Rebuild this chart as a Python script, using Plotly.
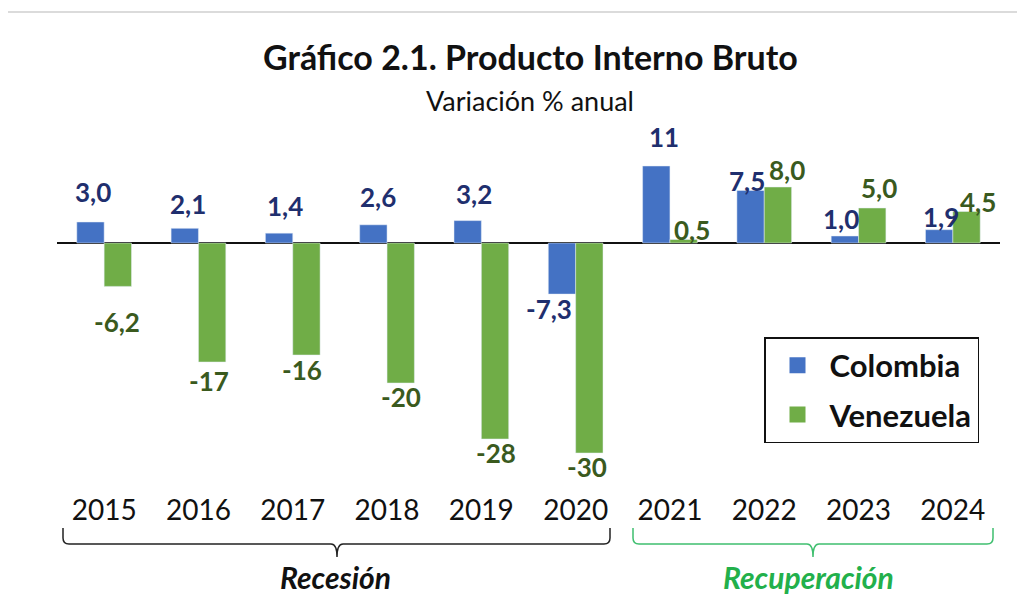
import plotly.graph_objects as go

# ---------------- data ----------------
years = ["2015", "2016", "2017", "2018", "2019", "2020", "2021", "2022", "2023", "2024"]
colombia = [3.0, 2.1, 1.4, 2.6, 3.2, -7.3, 11, 7.5, 1.0, 1.9]
venezuela = [-6.2, -17, -16, -20, -28, -30, 0.5, 8.0, 5.0, 4.5]
colombia_labels = ["3,0", "2,1", "1,4", "2,6", "3,2", "-7,3", "11", "7,5", "1,0", "1,9"]
venezuela_labels = ["-6,2", "-17", "-16", "-20", "-28", "-30", "0,5", "8,0", "5,0", "4,5"]
title = "Gráfico 2.1. Producto Interno Bruto"
subtitle = "Variación % anual"
period_names = ["Recesión", "Recuperación"]

# label nudges (style only): pixel offset (dx, dy) of each label centre from its bar end
col_nudge = [(3, -30), (3, -24), (6, -27), (5, -28), (6, -27), (-13, 15), (8, -29), (-3, -10), (-4, -17), (2, -13)]
ven_nudge = [(-1, 36), (-3, 19), (-5, 15), (0, 14), (1, 14), (-2, 14), (8, -10), (9, -17), (7, -20), (11, -10)]

# ---------------- layout geometry (page pixels) ----------------
OFF = 8                      # page body margin
W, H = 1025 - OFF, 601 - OFF
L, R, T, B = 57, 1000, 145, 474   # plot area in page pixels
FONT = "Lato"

def px_x(px):
    return (px - L) / (R - L)

def px_y(py):
    return (B - py) / (B - T)

BLUE = "#4472C4"
GREEN = "#70AD47"
BLUE_TXT = "#1F2F6E"
GREEN_TXT = "#3A5A1E"

fig = go.Figure()
fig.add_trace(go.Bar(name="Colombia", x=years, y=colombia, marker_color=BLUE, showlegend=False))
fig.add_trace(go.Bar(name="Venezuela", x=years, y=venezuela, marker_color=GREEN, showlegend=False))
# legend entries
fig.add_trace(go.Scatter(name="Colombia", x=[None], y=[None], mode="markers", legendgroup="a",
                         marker=dict(symbol="square", size=16, color=BLUE)))
fig.add_trace(go.Scatter(name="Venezuela", x=[None], y=[None], mode="markers", legendgroup="b",
                         marker=dict(symbol="square", size=16, color=GREEN)))

annotations = []
half = 0.146
for vals, labs, nudges, sign, color in [(colombia, colombia_labels, col_nudge, -1, BLUE_TXT),
                                         (venezuela, venezuela_labels, ven_nudge, 1, GREEN_TXT)]:
    for i, (v, t, (dx, dy)) in enumerate(zip(vals, labs, nudges)):
        annotations.append(dict(x=i + sign * half, y=v, xref="x", yref="y", text=t, showarrow=False,
                                xshift=dx, yshift=-dy, xanchor="center", yanchor="middle",
                                font=dict(family=FONT, size=26, color=color, weight="bold")))

annotations.append(dict(x=px_x(530), y=px_y(57), xref="paper", yref="paper", text="<b>" + title + "</b>",
                        showarrow=False, xanchor="center", yanchor="middle",
                        font=dict(family=FONT, size=34, color="#111111")))
annotations.append(dict(x=px_x(530), y=px_y(100), xref="paper", yref="paper", text=subtitle,
                        showarrow=False, xanchor="center", yanchor="middle",
                        font=dict(family=FONT, size=27, color="#111111")))
annotations.append(dict(x=px_x(335), y=px_y(577), xref="paper", yref="paper",
                        text="<b><i>" + period_names[0] + "</i></b>", showarrow=False,
                        xanchor="center", yanchor="middle",
                        font=dict(family=FONT, size=30, color="#111111")))
annotations.append(dict(x=px_x(808), y=px_y(577), xref="paper", yref="paper",
                        text="<b><i>" + period_names[1] + "</i></b>", showarrow=False,
                        xanchor="center", yanchor="middle",
                        font=dict(family=FONT, size=30, color="#22B04B")))


def brace(x0, x1, xt, ytop, ymid, ytip, r=6):
    X = px_x
    Y = px_y
    p = (f"M {X(x0)},{Y(ytop)} L {X(x0)},{Y(ymid - r)} Q {X(x0)},{Y(ymid)} {X(x0 + r)},{Y(ymid)} "
         f"L {X(xt - r)},{Y(ymid)} Q {X(xt)},{Y(ymid)} {X(xt)},{Y(ytip)} "
         f"Q {X(xt)},{Y(ymid)} {X(xt + r)},{Y(ymid)} L {X(x1 - r)},{Y(ymid)} "
         f"Q {X(x1)},{Y(ymid)} {X(x1)},{Y(ymid - r)} L {X(x1)},{Y(ytop)}")
    return p

shapes = [
    dict(type="path", xref="paper", yref="paper", path=brace(63, 610, 337, 528, 544, 557),
         line=dict(color="#222222", width=1.5)),
    dict(type="path", xref="paper", yref="paper", path=brace(633, 993, 813, 528, 544, 557),
         line=dict(color="#3FBF6F", width=1.5)),
    dict(type="rect", xref="paper", yref="paper", x0=px_x(5), y0=px_y(640), x1=px_x(1060), y1=px_y(12),
         line=dict(color="#CFCFCF", width=1.5), fillcolor="rgba(0,0,0,0)", layer="below"),
]

fig.update_layout(
    width=W, height=H,
    margin=dict(l=L - OFF, r=W - (R - OFF), t=T - OFF, b=H - (B - OFF), pad=0),
    paper_bgcolor="white", plot_bgcolor="white",
    barmode="group", bargap=0.42, bargroupgap=0,
    font=dict(family=FONT, color="#111111"),
    annotations=annotations,
    shapes=shapes,
    showlegend=True,
    legend=dict(x=px_x(764), y=px_y(337), xanchor="left", yanchor="top",
                bordercolor="#111111", borderwidth=1.5, bgcolor="white",
                traceorder="grouped", tracegroupgap=6, itemwidth=54, itemsizing="trace",
                font=dict(family=FONT, size=31, color="#111111", weight="bold")),
    xaxis=dict(type="category", showgrid=False, showline=False, ticks="",
               ticklabelstandoff=17, tickfont=dict(family=FONT, size=28, color="#111111")),
    yaxis=dict(range=[-33, 14], showgrid=False, showticklabels=False, ticks="",
               zeroline=True, zerolinecolor="#111111", zerolinewidth=2, showline=False),
)

fig.write_html("out.html")
